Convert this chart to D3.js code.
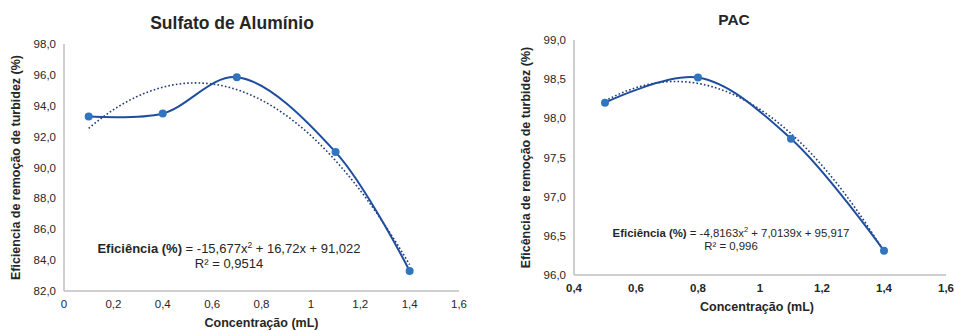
<!DOCTYPE html>
<html>
<head>
<meta charset="utf-8">
<script src="https://cdn.jsdelivr.net/npm/d3@7"></script>
<style>
  body { margin: 0; background: #fff; }
  text { font-family: "Liberation Sans", Arial, sans-serif; fill: #262626; }
</style>
</head>
<body>
<script>
// Sulfato de Aluminio
const sulfConc = [0.1, 0.4, 0.7, 1.1, 1.4]
const sulfEff = [93.3, 93.5, 95.85, 91.0, 83.3]
const sulfCoef = [-15.677, 16.72, 91.022]
const sulfXTicks = [0, 0.2, 0.4, 0.6, 0.8, 1, 1.2, 1.4, 1.6]
const sulfYTicks = [82, 84, 86, 88, 90, 92, 94, 96, 98]

// PAC
const pacConc = [0.5, 0.8, 1.1, 1.4]
const pacEff = [98.2, 98.52, 97.74, 96.31]
const pacCoef = [-4.8163, 7.0139, 95.917]
const pacXTicks = [0.4, 0.6, 0.8, 1, 1.2, 1.4, 1.6]
const pacYTicks = [96, 96.5, 97, 97.5, 98, 98.5, 99]

const W = 955, H = 331
const svg = d3.select('body').append('svg').attr('width', W).attr('height', H)

const fmtX = d => d === 0 || d === 1 ? String(d) : d3.format('.1f')(d).replace('.', ',')
const fmtY = d => d3.format('.1f')(d).replace('.', ',')

function chart(o) {
    const g = svg.append('g')
    const x = d3.scaleLinear().domain(o.xDom).range([o.left, o.right])
    const y = d3.scaleLinear().domain(o.yDom).range([o.bottom, o.top])

    // axes lines
    g.append('line').attr('x1', o.left).attr('x2', o.left).attr('y1', o.top).attr('y2', o.bottom)
        .attr('stroke', '#bfbfbf').attr('stroke-width', 1.5)
    g.append('line').attr('x1', o.left).attr('x2', o.right).attr('y1', o.bottom).attr('y2', o.bottom)
        .attr('stroke', '#bfbfbf').attr('stroke-width', 1.5)

    g.selectAll('.yt').data(o.yTicks).enter().append('text')
        .attr('x', o.left - 8).attr('y', d => y(d) + 4)
        .attr('text-anchor', 'end').attr('font-size', 11.5)
        .text(fmtY)
    g.selectAll('.xt').data(o.xTicks).enter().append('text')
        .attr('x', d => x(d)).attr('y', o.bottom + 17)
        .attr('text-anchor', 'middle').attr('font-size', 11.5)
        .attr('font-weight', o.boldX ? 'bold' : 'normal')
        .text(fmtX)

    // titles
    g.append('text').attr('x', o.titleX).attr('y', o.titleY)
        .attr('text-anchor', 'middle').attr('font-weight', 'bold').attr('font-size', o.titleSize)
        .text(o.title)
    g.append('text').attr('x', (o.left + o.right) / 2 + o.xlabShift).attr('y', o.bottom + 36)
        .attr('text-anchor', 'middle').attr('font-weight', 'bold').attr('font-size', 12.5)
        .text('Concentração (mL)')
    g.append('text')
        .attr('transform', `translate(${o.ylabX},${(o.top + o.bottom) / 2}) rotate(-90)`)
        .attr('text-anchor', 'middle').attr('font-weight', 'bold').attr('font-size', 12.5)
        .text(o.ylab)

    // trendline (dotted) from the fitted polynomial
    const [a, b, c] = o.coef
    const xs = d3.range(0, 101).map(i => o.conc[0] + (o.conc[o.conc.length - 1] - o.conc[0]) * i / 100)
    g.append('path')
        .datum(xs)
        .attr('d', d3.line().x(d => x(d)).y(d => y(a * d * d + b * d + c)))
        .attr('fill', 'none').attr('stroke', '#1f3a7a').attr('stroke-width', 1.6)
        .attr('stroke-dasharray', '1.6,2.2')

    // smoothed line
    const pts = o.conc.map((d, i) => [d, o.eff[i]])
    g.append('path')
        .datum(pts)
        .attr('d', d3.line().x(d => x(d[0])).y(d => y(d[1])).curve(d3.curveCatmullRom.alpha(0.5)))
        .attr('fill', 'none').attr('stroke', '#1f4e9e').attr('stroke-width', 2)

    g.selectAll('circle').data(pts).enter().append('circle')
        .attr('cx', d => x(d[0])).attr('cy', d => y(d[1])).attr('r', 4)
        .attr('fill', '#2f75c0')

    // equation
    g.append('text').attr('x', o.eqX).attr('y', o.eqY).attr('text-anchor', 'middle')
        .attr('font-size', o.eqSize)
        .call(t => {
            t.append('tspan').attr('font-weight', 'bold').text('Eficiência (%)')
            t.append('tspan').text(' = ' + o.eq1)
            t.append('tspan').attr('font-size', o.eqSize * 0.65).attr('dy', -5).text('2')
            t.append('tspan').attr('dy', 5).text(o.eq2)
        })
    g.append('text').attr('x', o.eqX).attr('y', o.eqY + o.eqGap).attr('text-anchor', 'middle')
        .attr('font-size', o.eqSize)
        .text(o.r2)
}

chart({
    conc: sulfConc, eff: sulfEff, coef: sulfCoef,
    xDom: [0, 1.6], yDom: [82, 98], xTicks: sulfXTicks, yTicks: sulfYTicks,
    left: 64, right: 459, top: 44, bottom: 291,
    title: 'Sulfato de Alumínio', titleX: 232, titleY: 29, titleSize: 17.5,
    ylab: 'Eficiencia de remoção de turbidez (%)', ylabX: 20, xlabShift: 0,
    eq1: '-15,677x', eq2: ' + 16,72x + 91,022', r2: 'R² = 0,9514',
    eqX: 229, eqY: 253, eqGap: 15, eqSize: 13, boldX: false
})

chart({
    conc: pacConc, eff: pacEff, coef: pacCoef,
    xDom: [0.4, 1.6], yDom: [96, 99], xTicks: pacXTicks, yTicks: pacYTicks,
    left: 574, right: 946, top: 40, bottom: 275,
    title: 'PAC', titleX: 734, titleY: 25, titleSize: 15.5,
    ylab: 'Eficência de remoção de turbidez (%)', ylabX: 530, xlabShift: -3,
    eq1: '-4,8163x', eq2: ' + 7,0139x + 95,917', r2: 'R² = 0,996',
    eqX: 731, eqY: 237, eqGap: 13, eqSize: 11.4, boldX: true
})
</script>
</body>
</html>
